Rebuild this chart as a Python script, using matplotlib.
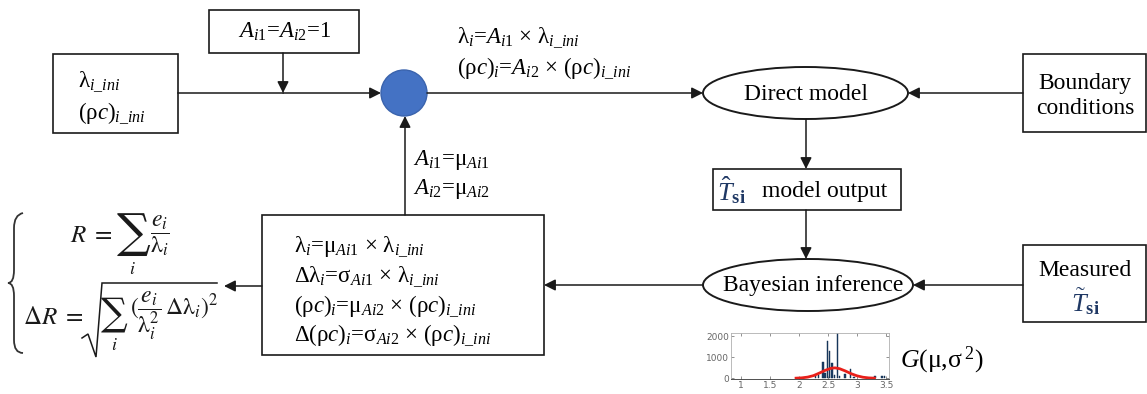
import numpy as np
import matplotlib
matplotlib.use("Agg")
import matplotlib.pyplot as plt
from matplotlib.patches import Rectangle, Ellipse, Circle, PathPatch
from matplotlib.path import Path

plt.rcParams['font.family'] = ['Liberation Serif', 'DejaVu Serif']
plt.rcParams['mathtext.fontset'] = 'custom'
plt.rcParams['mathtext.rm'] = 'Liberation Serif'
plt.rcParams['mathtext.it'] = 'Liberation Serif:italic'
plt.rcParams['mathtext.bf'] = 'Liberation Serif:bold'

# posterior sample histogram (parameter value, count)
hist_x = [2.28, 2.34, 2.41, 2.45, 2.49, 2.53, 2.57, 2.61, 2.66, 2.70, 2.79, 2.89, 2.95, 3.31, 3.43, 3.47]
hist_h = [90, 150, 780, 250, 1750, 1300, 700, 150, 2200, 120, 180, 420, 60, 110, 90, 80]

# fitted normal distribution
gauss_x = [1.95, 2.05, 2.15, 2.25, 2.35, 2.45, 2.55, 2.62, 2.70, 2.80, 2.90, 3.00, 3.10, 3.20, 3.30]
gauss_y = [0, 15, 50, 120, 240, 370, 470, 490, 450, 340, 210, 110, 45, 12, 0]

hist_xticks = [1, 1.5, 2, 2.5, 3, 3.5]
hist_yticks = [0, 1000, 2000]

INK = '#1a1a1a'
NAVY = '#1f3864'

W, H = 1147, 394
fig = plt.figure(figsize=(W / 100, H / 100), dpi=100)
ax = fig.add_axes([0, 0, 1, 1])
ax.set_xlim(0, W)
ax.set_ylim(H, 0)
ax.axis('off')


def box(x0, y0, x1, y1):
    ax.add_patch(Rectangle((x0, y0), x1 - x0, y1 - y0, fill=False, ec=INK, lw=1.2))


def oval(cx, cy, w, h):
    ax.add_patch(Ellipse((cx, cy), w, h, fill=False, ec=INK, lw=1.4))


def arrow(x0, y0, x1, y1):
    ax.annotate('', xy=(x1, y1), xytext=(x0, y0),
                arrowprops=dict(arrowstyle='-|>', color=INK, lw=1.1,
                                mutation_scale=17, shrinkA=0, shrinkB=0))


def line(x0, y0, x1, y1):
    ax.plot([x0, x1], [y0, y1], color=INK, lw=1.1)


def eq(x, y, s, size=17, ha='left'):
    ax.text(x, y, s, fontsize=size, va='center', ha=ha, color=INK,
            math_fontfamily='stix')


def big_sum(x, y, size):
    ax.text(x, y, '∑', fontsize=size, va='center', ha='left', color=INK,
            family='DejaVu Serif')


fs = 16.5

# initial values and initial multipliers
box(53, 54, 178, 133)
ax.text(78, 82, r'λ$_{i\_ini}$', fontsize=fs, va='center', ha='left')
ax.text(78, 113, r'(ρ$c$)$_{i\_ini}$', fontsize=fs, va='center', ha='left')

box(209, 10, 359, 53)
ax.text(284, 32, r'$A_{i1}$=$A_{i2}$=1', fontsize=fs, va='center', ha='center')

line(178, 93, 283, 93)
arrow(283, 53, 283, 93)
arrow(283, 93, 381, 93)

# combination node
ax.add_patch(Circle((404, 93), 23, fc='#4472c4', ec='#3a63ad', lw=1.0))

ax.text(457, 38, r'λ$_{i}$=$A_{i1}$ × λ$_{i\_ini}$', fontsize=fs, va='center', ha='left')
ax.text(457, 68, r'(ρ$c$)$_{i}$=$A_{i2}$ × (ρ$c$)$_{i\_ini}$', fontsize=fs, va='center', ha='left')
arrow(427, 93, 703, 93)

# direct model
oval(805.5, 93, 205, 52)
ax.text(806, 94, 'Direct model', fontsize=17, va='center', ha='center')

box(1023, 54, 1146, 132)
ax.text(1085, 83, 'Boundary', fontsize=17, va='center', ha='center')
ax.text(1085, 108, 'conditions', fontsize=17, va='center', ha='center')
arrow(1023, 93, 908, 93)

arrow(806, 119, 806, 169)
box(713, 169, 901, 210)
ax.text(717, 190, r'$\hat{T}_{\mathbf{si}}$', fontsize=19, va='center', ha='left', color=NAVY)
ax.text(762, 191, 'model output', fontsize=17, va='center', ha='left')
arrow(806, 210, 806, 259)

# Bayesian inference
oval(808, 285, 210, 52)
ax.text(813, 286, 'Bayesian inference', fontsize=17, va='center', ha='center')

box(1023, 245, 1146, 322)
ax.text(1085, 270, 'Measured', fontsize=17, va='center', ha='center')
ax.text(1085, 302, r'$\tilde{T}_{\mathbf{si}}$', fontsize=19, va='center', ha='center', color=NAVY)
arrow(1023, 285, 913, 285)

# posterior update of the properties
arrow(703, 285, 544, 285)
box(262, 215, 544, 355)
rows = [
    r'λ$_{i}$=μ$_{Ai1}$ × λ$_{i\_ini}$',
    r'Δλ$_{i}$=σ$_{Ai1}$ × λ$_{i\_ini}$',
    r'(ρ$c$)$_{i}$=μ$_{Ai2}$ × (ρ$c$)$_{i\_ini}$',
    r'Δ(ρ$c$)$_{i}$=σ$_{Ai2}$ × (ρ$c$)$_{i\_ini}$',
]
for k, r in enumerate(rows):
    ax.text(294, 247 + k * 29.5, r, fontsize=fs, va='center', ha='left')

arrow(405, 215, 405, 116)
ax.text(413, 160, r'$A_{i1}$=μ$_{Ai1}$', fontsize=fs, va='center', ha='left')
ax.text(413, 189, r'$A_{i2}$=μ$_{Ai2}$', fontsize=fs, va='center', ha='left')

# thermal resistance and its uncertainty
arrow(262, 286, 224, 286)

eq(70, 236, r'$R\;=$', 18)
big_sum(117, 234, 34)
eq(132, 270, r'$i$', 13, ha='center')
eq(150, 236, r'$\dfrac{e_i}{\mathrm{\lambda}_i}$', 17)

eq(23, 318, r'$\Delta R\ =$', 18)
sq = [(82, 338), (88, 334), (96, 357), (102, 283), (217, 283)]
ax.plot([p[0] for p in sq], [p[1] for p in sq], color=INK, lw=1.1,
        solid_joinstyle='miter')
big_sum(101, 314, 27)
eq(114, 346, r'$i$', 13, ha='center')
eq(130, 316, r'$(\dfrac{e_i}{\mathrm{\lambda}_i^2}\,\Delta\mathrm{\lambda}_i)^2$', 17)

verts = [(23, 213), (14, 215), (14, 228),
         (14, 270), (14, 283), (8, 283),
         (14, 283), (14, 296),
         (14, 340), (14, 353), (23, 353)]
codes = [Path.MOVETO, Path.CURVE3, Path.CURVE3,
         Path.LINETO, Path.CURVE3, Path.CURVE3,
         Path.CURVE3, Path.CURVE3,
         Path.LINETO, Path.CURVE3, Path.CURVE3]
ax.add_patch(PathPatch(Path(verts, codes), fill=False, ec='#333333', lw=1.3))

# posterior histogram inset
hx0, hx1, hy0, hy1 = 731, 889, 333, 379
hax = fig.add_axes([hx0 / W, 1 - hy1 / H, (hx1 - hx0) / W, (hy1 - hy0) / H])
hax.bar(hist_x, hist_h, width=0.025, color='#1c3f66', edgecolor='#0f2a4a', lw=0.3)
hax.plot(gauss_x, gauss_y, color='#e8201a', lw=2.0)
hax.set_xlim(0.83, 3.55)
hax.set_ylim(-40, 2150)
hax.set_xticks(hist_xticks)
hax.set_xticklabels(['1', '1.5', '2', '2.5', '3', '3.5'])
hax.set_yticks(hist_yticks)
hax.tick_params(direction='in', length=2, width=0.5, labelsize=6.5,
                colors='#666666', pad=1.5, top=True, right=True)
for name, sp in hax.spines.items():
    sp.set_color('#333333' if name == 'bottom' else '#b0b0b0')
    sp.set_linewidth(0.6)
for lab in hax.get_xticklabels() + hax.get_yticklabels():
    lab.set_family('DejaVu Sans')

ax.text(900, 360, r'$G$(μ,σ$\,^2$)', fontsize=18.5, va='center', ha='left')

fig.savefig('out.png', dpi=100)
